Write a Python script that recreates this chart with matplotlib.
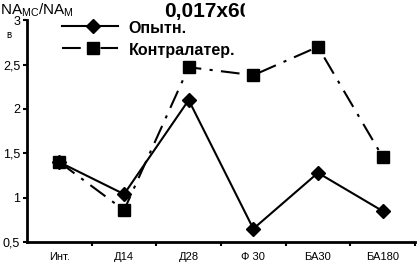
import matplotlib
matplotlib.use('Agg')
import matplotlib.pyplot as plt
from matplotlib.lines import Line2D
from matplotlib.patches import Rectangle

plt.rcParams['font.family'] = ['Liberation Sans', 'DejaVu Sans']

categories = ['Инт.', 'Д14', 'Д28', 'Ф 30', 'БА30', 'БА180']
experimental = [1.40, 1.04, 2.10, 0.65, 1.28, 0.85]
contralateral = [1.40, 0.86, 2.47, 2.38, 2.70, 1.46]
y_ticks = [0.5, 1, 1.5, 2, 2.5, 3]
y_tick_labels = ['0,5', '1', '1,5', '2', '2,5', '3']

fig = plt.figure(figsize=(4.17, 2.62), dpi=100)
ax = fig.add_axes([0.065, 0.076, 0.93, 0.847])

x = list(range(len(categories)))
ax.plot(x, experimental, color='black', lw=1.5, marker='D', ms=7,
        label='Опытн.')
ax.plot(x, contralateral, color='black', lw=1.5, marker='s', ms=8,
        dashes=(9, 4, 1.5, 4), label='Контралатер.')

ax.set_xlim(-0.5, 5.5)
ax.set_ylim(0.5, 3)
ax.set_xticks(x)
ax.set_xticklabels(categories, fontsize=8)
ax.set_xticks([i + 0.5 for i in x], minor=True)
ax.tick_params(axis='x', which='major', length=0, pad=7)
ax.tick_params(axis='x', which='minor', length=3, width=1.5, direction='out')
ax.set_yticks(y_ticks)
ax.set_yticklabels(y_tick_labels, fontsize=9)
ax.tick_params(axis='y', length=3, width=1.5, direction='out', pad=2)

for side in ['top', 'right']:
    ax.spines[side].set_visible(False)
for side in ['left', 'bottom']:
    ax.spines[side].set_linewidth(2)

# legend drawn by hand inside the axes area
leg_items = [
    (dict(color='black', lw=1.5, marker='D', ms=7), 'Опытн.', 0.9),
    (dict(color='black', lw=1.5, marker='s', ms=8, dashes=(9, 4, 1.5, 4)), 'Контралатер.', 0.815),
]
for style, text, yy in leg_items:
    ln = Line2D([0.148, 0.222, 0.282], [yy, yy, yy], transform=fig.transFigure,
                markevery=[1], **style)
    fig.add_artist(ln)
    fig.text(0.308, yy - 0.008, text, fontsize=11.5, fontweight='bold', va='center')

fig.text(0.393, 0.955, '0,017x60', fontsize=15, fontweight='bold', va='center')
# the title is cut off on the right in the original
fig.add_artist(Rectangle((0.588, 0.9), 0.1, 0.1, transform=fig.transFigure,
                         color='white', zorder=5))

fig.text(0.0, 0.962, 'NA$_{\\mathregular{МС}}$/NA$_{\\mathregular{М}}$',
         fontsize=11, va='center')
fig.text(0.015, 0.868, 'в', fontsize=7, va='center')

fig.savefig('out.png', dpi=100)
